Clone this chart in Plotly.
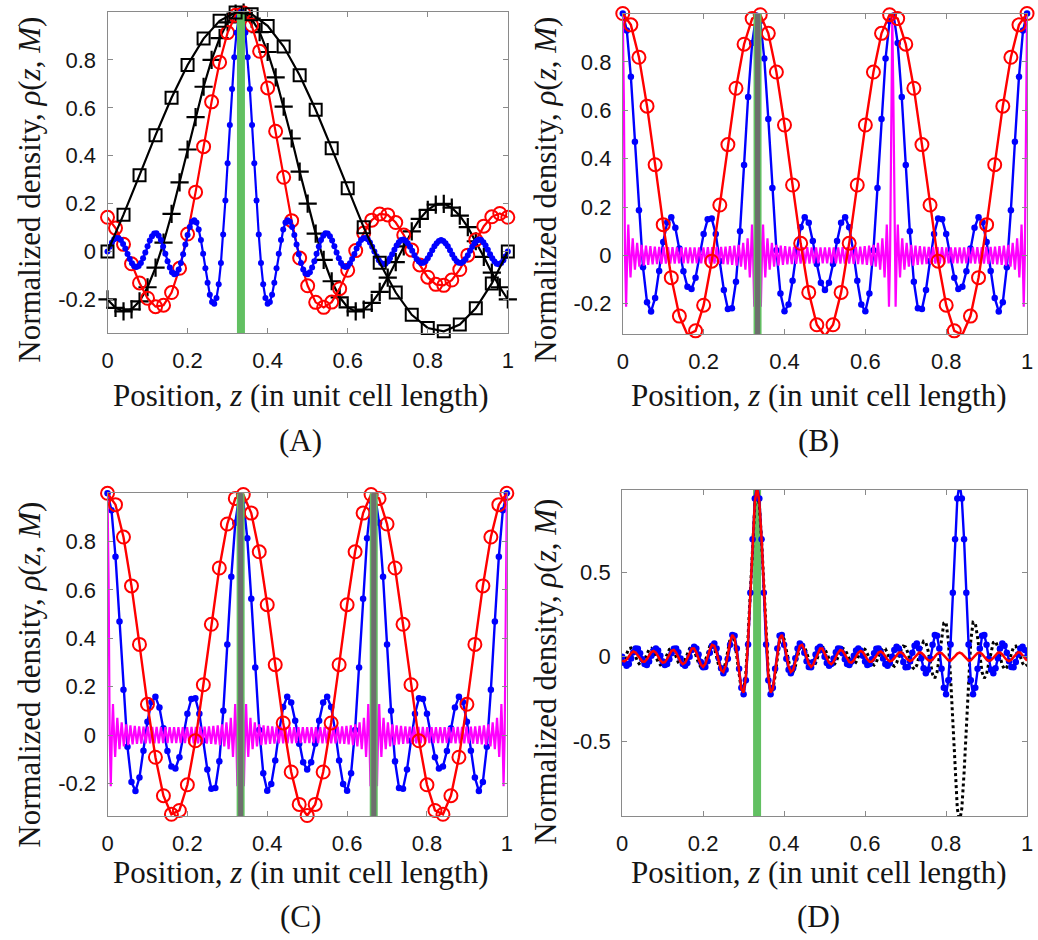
import plotly.graph_objects as go

W, H = 1038, 940

# ---------------- tick marks / labels ----------------
TICK_Z = [0, 0.2, 0.4, 0.6, 0.8, 1]
TICK_Z_TEXT = ["0", "0.2", "0.4", "0.6", "0.8", "1"]
TICK_RHO = [-0.2, 0, 0.2, 0.4, 0.6, 0.8]
TICK_RHO_TEXT = ["-0.2", "0", "0.2", "0.4", "0.6", "0.8"]
TICK_RHO_D = [-0.5, 0, 0.5]
TICK_RHO_D_TEXT = ["-0.5", "0", "0.5"]

# marked lattice sites (position in unit cell)
SITES_A = [1 / 3]
SITES_B = [1 / 3]
SITES_C = [1 / 3, 2 / 3]
SITES_D = [1 / 3]

# ---------------- panel A: single site at z = 1/3 ----------------
# M = 1, sampled every 0.04
A_M1 = [0.000, 0.154, 0.319, 0.486, 0.642, 0.779, 0.889, 0.963, 0.998, 0.991,
        0.942, 0.856, 0.736, 0.592, 0.431, 0.264, 0.101, -0.047, -0.171, -0.264,
        -0.319, -0.333, -0.305, -0.237, -0.133, 0.000]
# M = 2, sampled every 0.02
A_M2 = [-0.200, -0.235, -0.250, -0.241, -0.208, -0.149, -0.067, 0.037, 0.157, 0.289,
        0.426, 0.561, 0.688, 0.800, 0.891, 0.957, 0.993, 0.998, 0.972, 0.916,
        0.833, 0.727, 0.605, 0.472, 0.334, 0.200, 0.075, -0.035, -0.124, -0.191,
        -0.233, -0.250, -0.242, -0.214, -0.168, -0.109, -0.044, 0.022, 0.084, 0.136,
        0.174, 0.196, 0.199, 0.183, 0.150, 0.102, 0.043, -0.022, -0.088, -0.149,
        -0.200]
# M = 3, sampled every 0.02
A_M3 = [0.143, 0.098, 0.030, -0.051, -0.131, -0.195, -0.230, -0.224, -0.171, -0.070,
        0.073, 0.248, 0.438, 0.625, 0.790, 0.914, 0.986, 0.996, 0.945, 0.836,
        0.683, 0.502, 0.310, 0.129, -0.027, -0.143, -0.212, -0.233, -0.211, -0.155,
        -0.078, 0.004, 0.077, 0.131, 0.157, 0.153, 0.121, 0.069, 0.006, -0.056,
        -0.107, -0.137, -0.141, -0.119, -0.075, -0.015, 0.049, 0.106, 0.145, 0.159,
        0.143]
# M = 10, sampled every 1/180
A_M10 = [0.000, 0.020, 0.038, 0.051, 0.057, 0.056, 0.048, 0.032, 0.013, -0.010,
         -0.031, -0.049, -0.061, -0.065, -0.060, -0.048, -0.028, -0.004, 0.022, 0.046,
         0.064, 0.075, 0.076, 0.066, 0.048, 0.021, -0.009, -0.040, -0.067, -0.086,
         -0.095, -0.092, -0.075, -0.048, -0.011, 0.029, 0.069, 0.102, 0.124, 0.131,
         0.121, 0.092, 0.048, -0.009, -0.070, -0.130, -0.180, -0.211, -0.218, -0.194,
         -0.137, -0.048, 0.071, 0.213, 0.369, 0.528, 0.679, 0.811, 0.913, 0.978,
         1.000,
         0.978, 0.913, 0.811, 0.679, 0.528, 0.369, 0.213, 0.071, -0.048, -0.137,
         -0.194, -0.218, -0.211, -0.180, -0.130, -0.070, -0.009, 0.048, 0.092, 0.121,
         0.131, 0.124, 0.102, 0.069, 0.029, -0.011, -0.048, -0.075, -0.092, -0.095,
         -0.086, -0.067, -0.040, -0.009, 0.021, 0.048, 0.066, 0.076, 0.075, 0.064,
         0.046, 0.022, -0.004, -0.028, -0.048, -0.060, -0.065, -0.061, -0.049, -0.031,
         -0.010, 0.013, 0.032, 0.048, 0.056, 0.057, 0.051, 0.038, 0.020, 0.000,
         -0.020, -0.036, -0.048, -0.053, -0.051, -0.042, -0.028, -0.011, 0.008, 0.025,
         0.039, 0.048, 0.050, 0.045, 0.035, 0.020, 0.003, -0.015, -0.031, -0.042,
         -0.048, -0.047, -0.040, -0.028, -0.012, 0.005, 0.022, 0.035, 0.044, 0.048,
         0.044, 0.035, 0.022, 0.005, -0.012, -0.028, -0.040, -0.047, -0.048, -0.042,
         -0.031, -0.015, 0.003, 0.020, 0.035, 0.045, 0.050, 0.048, 0.039, 0.025,
         0.008, -0.011, -0.028, -0.042, -0.051, -0.053, -0.048, -0.036, -0.020, 0.000]

# ---------------- panels B and C: sites at 0, 1/3, 2/3 ----------------
# M = 1, sampled every 0.02
BC_M1 = [1.000, 0.953, 0.819, 0.617, 0.375, 0.127, -0.092, -0.251, -0.328, -0.312,
         -0.206, -0.024, 0.208, 0.458, 0.691, 0.873, 0.979, 0.995, 0.918, 0.758,
         0.539, 0.291, 0.050, -0.153, -0.287, -0.333, -0.287, -0.153, 0.050, 0.291,
         0.539, 0.758, 0.918, 0.995, 0.979, 0.873, 0.691, 0.458, 0.208, -0.024,
         -0.206, -0.312, -0.328, -0.251, -0.092, 0.127, 0.375, 0.617, 0.819, 0.953,
         1.000]
# M = 3, sampled every 0.01
BC_M3 = [1.000, 0.930, 0.738, 0.470, 0.187, -0.049, -0.194, -0.232, -0.176, -0.065,
         0.055, 0.137, 0.158, 0.114, 0.028, -0.066, -0.130, -0.139, -0.092, -0.005,
         0.088, 0.149, 0.152, 0.088, -0.023, -0.143, -0.222, -0.219, -0.109, 0.100,
         0.374, 0.655, 0.878, 0.992, 0.969, 0.814, 0.564, 0.279, 0.021, -0.158,
         -0.231, -0.203, -0.105, 0.017, 0.116, 0.158, 0.135, 0.059, -0.036, -0.113,
         -0.143,
         -0.113, -0.036, 0.059, 0.135, 0.158, 0.116, 0.017, -0.105, -0.203, -0.231,
         -0.158, 0.021, 0.279, 0.564, 0.814, 0.969, 0.992, 0.878, 0.655, 0.374,
         0.100, -0.109, -0.219, -0.222, -0.143, -0.023, 0.088, 0.152, 0.149, 0.088,
         -0.005, -0.092, -0.139, -0.130, -0.066, 0.028, 0.114, 0.158, 0.137, 0.055,
         -0.065, -0.176, -0.232, -0.194, -0.049, 0.187, 0.470, 0.738, 0.930, 1.000]
# high order, sampled every 1/366
BC_HIGH = [
    1, .637, 0, -.212, 0, .128, 0, -.091, 0, .071, 0, -.059, 0, .052, 0, -.047, 0, .044, 0, -.042,
    0, .040, 0, -.039, 0, .038, 0, -.037, 0, .036, 0, -.036, 0, .035, 0, -.035, 0, .035, 0, -.034,
    0, .034, 0, -.034, 0, .034, 0, -.034, 0, .033, 0, -.033, 0, .033, 0, -.033, 0, .033, 0, -.033,
    0, .033, 0, -.033, 0, .033, 0, -.033, 0, .033, 0, -.033, 0, .033, 0, -.034, 0, .034, 0, -.034,
    0, .034, 0, -.034, 0, .035, 0, -.035, 0, .035, 0, -.036, 0, .036, 0, -.037, 0, .038, 0, -.039,
    0, .040, 0, -.042, 0, .044, 0, -.047, 0, .052, 0, -.059, 0, .071, 0, -.091, 0, .128, 0, -.212,
    0, .637,
    1, .637, 0, -.212, 0, .128, 0, -.091, 0, .071, 0, -.059, 0, .052, 0, -.047, 0, .044, 0, -.042,
    0, .040, 0, -.039, 0, .038, 0, -.037, 0, .036, 0, -.036, 0, .035, 0, -.035, 0, .035, 0, -.034,
    0, .034, 0, -.034, 0, .034, 0, -.034, 0, .033, 0, -.033, 0, .033, 0, -.033, 0, .033, 0, -.033,
    0, .033, 0, -.033, 0, .033, 0, -.033, 0, .033, 0, -.033, 0, .033, 0, -.034, 0, .034, 0, -.034,
    0, .034, 0, -.034, 0, .035, 0, -.035, 0, .035, 0, -.036, 0, .036, 0, -.037, 0, .038, 0, -.039,
    0, .040, 0, -.042, 0, .044, 0, -.047, 0, .052, 0, -.059, 0, .071, 0, -.091, 0, .128, 0, -.212,
    0, .637,
    1, .637, 0, -.212, 0, .128, 0, -.091, 0, .071, 0, -.059, 0, .052, 0, -.047, 0, .044, 0, -.042,
    0, .040, 0, -.039, 0, .038, 0, -.037, 0, .036, 0, -.036, 0, .035, 0, -.035, 0, .035, 0, -.034,
    0, .034, 0, -.034, 0, .034, 0, -.034, 0, .033, 0, -.033, 0, .033, 0, -.033, 0, .033, 0, -.033,
    0, .033, 0, -.033, 0, .033, 0, -.033, 0, .033, 0, -.033, 0, .033, 0, -.034, 0, .034, 0, -.034,
    0, .034, 0, -.034, 0, .035, 0, -.035, 0, .035, 0, -.036, 0, .036, 0, -.037, 0, .038, 0, -.039,
    0, .040, 0, -.042, 0, .044, 0, -.047, 0, .052, 0, -.059, 0, .071, 0, -.091, 0, .128, 0, -.212,
    0, .637,
    1]

# ---------------- panel D: sites at 1/3 and 5/6, sampled every 1/180 ----------------
D_ONE = [-.024, -.028, -.018, .002, .020, .030, .024, .007, -.015, -.029,
         -.030, -.016, .007, .027, .034, .024, .002, -.022, -.036, -.033,
         -.013, .014, .035, .039, .024, -.004, -.031, -.045, -.036, -.009,
         .024, .048, .048, .024, -.013, -.047, -.060, -.043, -.002, .043,
         .070, .064, .024, -.033, -.080, -.091, -.056, .013, .087, .128,
         .108, .024, -.093, -.191, -.213, -.118, .096, .391, .692, .917,
         1.000, .917, .692, .391, .096, -.118, -.213, -.191, -.093, .024,
         .108, .128, .087, .013, -.056, -.091, -.080, -.033, .024, .064,
         .070, .043, -.002, -.043, -.060, -.047, -.013, .024, .048, .048,
         .024, -.009, -.036, -.045, -.031, -.004, .024, .039, .035, .014,
         -.013, -.033, -.036, -.022, .002, .024, .034, .027, .007, -.016,
         -.030, -.029, -.015, .007, .024, .030, .020, .002, -.018, -.028,
         -.024, -.009, .010, .024, .026, .015, -.003, -.019, -.026, -.020,
         -.005, .013, .024, .023, .011, -.007, -.021, -.025, -.017, .000,
         .016, .024, .021, .007, -.010, -.022, -.024, -.013, .003, .018,
         .024, .018, .003, -.013, -.024, -.022, -.010, .007, .021, .024,
         .016, .000, -.017, -.025, -.021, -.007, .011, .023, .024, .013,
         -.005, -.020, -.026, -.019, -.003, .015, .026, .024, .010, -.009,
         -.024]
D_SUM = [.000, -.037, -.054, -.043, -.011, .026, .048, .046, .020, -.015,
         -.043, -.049, -.029, .005, .036, .048, .036, .005, -.029, -.049,
         -.043, -.015, .020, .046, .048, .026, -.011, -.043, -.054, -.037,
         .000, .039, .058, .048, .013, -.032, -.063, -.062, -.028, .023,
         .065, .077, .048, -.010, -.069, -.098, -.077, -.012, .070, .128,
         .124, .048, -.072, -.184, -.223, -.140, .072, .378, .695, .935,
         1.024, .935, .695, .378, .072, -.140, -.223, -.184, -.072, .048,
         .124, .128, .070, -.012, -.077, -.098, -.069, -.010, .048, .077,
         .065, .023, -.028, -.062, -.063, -.032, .013, .048, .058, .039,
         .000, -.037, -.054, -.043, -.011, .026, .048, .046, .020, -.015,
         -.043, -.049, -.029, .005, .036, .048, .036, .005, -.029, -.049,
         -.043, -.015, .020, .046, .048, .026, -.011, -.043, -.054, -.037,
         .000, .039, .058, .048, .013, -.032, -.063, -.062, -.028, .023,
         .065, .077, .048, -.010, -.069, -.098, -.077, -.012, .070, .128,
         .124, .048, -.072, -.184, -.223, -.140, .072, .378, .695, .935,
         1.024, .935, .695, .378, .072, -.140, -.223, -.184, -.072, .048,
         .124, .128, .070, -.012, -.077, -.098, -.069, -.010, .048, .077,
         .065, .023, -.028, -.062, -.063, -.032, .013, .048, .058, .039,
         .000]
D_DIFF = [-.048, -.019, .018, .047, .051, .034, .000, -.032, -.050, -.043,
          -.017, .017, .043, .049, .032, .000, -.032, -.049, -.043, -.017,
          .017, .043, .050, .032, .000, -.034, -.051, -.047, -.018, .019,
          .048, .057, .038, .000, -.039, -.062, -.057, -.024, .024, .063,
          .075, .051, .000, -.056, -.091, -.084, -.035, .038, .104, .128,
          .092, .000, -.114, -.198, -.203, -.096, .120, .404, .689, .899,
          .976, .899, .689, .404, .120, -.096, -.203, -.198, -.114, .000,
          .092, .128, .104, .038, -.035, -.084, -.091, -.056, .000, .051,
          .075, .063, .024, -.024, -.057, -.062, -.039, .000, .038, .057,
          .048, .019, -.018, -.047, -.051, -.034, .000, .032, .050, .043,
          .017, -.017, -.043, -.049, -.032, .000, .032, .049, .043, .017,
          -.017, -.043, -.050, -.032, .000, .034, .051, .047, .018, -.019,
          -.048, -.057, -.038, .000, .039, .062, .057, .024, -.024, -.063,
          -.075, -.051, .000, .056, .091, .084, .035, -.038, -.104, -.128,
          -.092, .000, .114, .198, .203, .096, -.120, -.404, -.689, -.899,
          -.976, -.899, -.689, -.404, -.120, .096, .203, .198, .114, .000,
          -.092, -.128, -.104, -.038, .035, .084, .091, .056, .000, -.051,
          -.075, -.063, -.024, .024, .057, .062, .039, .000, -.038, -.057,
          -.048]


def grid(values, step):
    return [i * step for i in range(len(values))]


RED = "#ff0000"
BLUE = "#0000ff"
MAGENTA = "#ff00ff"
GREEN = "#62c062"
GRAY = "#6e6e6e"
AXIS = "#8a8a8a"
SERIF = "Liberation Serif, Times New Roman, serif"
SANS = "Liberation Sans, Arial, sans-serif"

# panel boxes in pixels: (left, right, top, bottom) and y ranges
PANELS = {
    "A": dict(box=(102.7, 507.7, 12.0, 333.0), yr=[-0.34, 1.0], tv=TICK_RHO, tt=TICK_RHO_TEXT),
    "B": dict(box=(624.0, 1033.0, 13.5, 334.0), yr=[-0.325, 1.0], tv=TICK_RHO, tt=TICK_RHO_TEXT),
    "C": dict(box=(102.7, 506.7, 493.3, 816.0), yr=[-0.335, 1.0], tv=TICK_RHO, tt=TICK_RHO_TEXT),
    "D": dict(box=(623.3, 1033.0, 490.0, 816.0), yr=[-0.943, 0.986], tv=TICK_RHO_D, tt=TICK_RHO_D_TEXT),
}
AX = {"A": ("x", "y"), "B": ("x2", "y2"), "C": ("x3", "y3"), "D": ("x4", "y4")}

fig = go.Figure()


def line_trace(p, x, y, color, width=2, dash="solid", clip=True):
    xa, ya = AX[p]
    fig.add_trace(go.Scatter(x=x, y=y, mode="lines", xaxis=xa, yaxis=ya,
                             line=dict(color=color, width=width, dash=dash),
                             cliponaxis=clip, hoverinfo="skip"))


def marker_trace(p, x, y, color, symbol, size, mlw=2, lw=2, clip=False):
    xa, ya = AX[p]
    fig.add_trace(go.Scatter(x=x, y=y, mode="lines+markers", xaxis=xa, yaxis=ya,
                             line=dict(color=color, width=lw),
                             marker=dict(symbol=symbol, size=size, color=color,
                                         line=dict(color=color, width=mlw)),
                             cliponaxis=clip, hoverinfo="skip"))


def site_bars(p, sites, with_gray):
    yr = PANELS[p]["yr"]
    for s in sites:
        line_trace(p, [s, s], yr, GREEN, width=8)
        if with_gray:
            line_trace(p, [s, s], yr, GRAY, width=5)


# ---- A ----
marker_trace("A", grid(A_M2, 0.02), A_M2, "black", "cross-thin", 13, mlw=2.2, lw=2.2)
marker_trace("A", grid(A_M3, 0.02), A_M3, RED, "circle-open", 13, lw=2.2)
marker_trace("A", grid(A_M10, 1 / 180), A_M10, BLUE, "circle", 6, mlw=0, lw=2.2)
site_bars("A", SITES_A, False)
marker_trace("A", grid(A_M1, 0.04), A_M1, "black", "square-open", 12, lw=2.2)

# ---- B and C ----
for p, sites in (("B", SITES_B), ("C", SITES_C)):
    marker_trace(p, grid(BC_M3, 0.01), BC_M3, BLUE, "circle", 6.5, mlw=0, lw=2.4)
    line_trace(p, grid(BC_HIGH, 1 / 366), BC_HIGH, MAGENTA, width=2.2)
    marker_trace(p, grid(BC_M1, 0.02), BC_M1, RED, "circle-open", 13, lw=2.4)
    site_bars(p, sites, True)

# ---- D ----
site_bars("D", SITES_D, False)
line_trace("D", grid(D_DIFF, 1 / 180), D_DIFF, "black", width=3, dash="dot")
marker_trace("D", grid(D_SUM, 1 / 180), D_SUM, BLUE, "circle", 6.5, mlw=0, lw=2.4, clip=True)
line_trace("D", grid(D_ONE, 1 / 180), D_ONE, RED, width=2.5)

# ---- axes ----
layout = dict(width=W, height=H, margin=dict(l=0, r=0, t=0, b=0),
              paper_bgcolor="white", plot_bgcolor="white", showlegend=False)
for i, p in enumerate("ABCD"):
    l, r, t, b = PANELS[p]["box"]
    sfx = "" if i == 0 else str(i + 1)
    common = dict(showline=True, linecolor=AXIS, linewidth=1, mirror="ticks",
                  ticks="inside", ticklen=5, tickcolor=AXIS, showgrid=False,
                  zeroline=False, tickfont=dict(family=SANS, size=22, color="#151515"))
    layout["xaxis" + sfx] = dict(domain=[l / W, r / W], anchor="y" + sfx, range=[0, 1],
                                 tickvals=TICK_Z, ticktext=TICK_Z_TEXT,
                                 ticklabelstandoff=8, **common)
    layout["yaxis" + sfx] = dict(domain=[1 - b / H, 1 - t / H], anchor="x" + sfx,
                                 range=PANELS[p]["yr"], tickvals=PANELS[p]["tv"],
                                 ticktext=PANELS[p]["tt"], ticklabelstandoff=6, **common)
fig.update_layout(**layout)

XTITLE = "Position, <i>z</i> (in unit cell length)"
YTITLE = "Normalized density, <i>ρ</i>(<i>z</i>, <i>M</i>)"


def text_at(px, py, text, angle=0, size=31):
    fig.add_annotation(x=px / W, y=1 - py / H, xref="paper", yref="paper", text=text,
                       showarrow=False, textangle=angle, xanchor="center", yanchor="middle",
                       font=dict(family=SERIF, size=size, color="#151515"))


for (cx, ty, ly, lab) in ((298, 395, 440, "(A)"), (822, 395, 440, "(B)"),
                          (298, 872, 916, "(C)"), (822, 872, 916, "(D)")):
    text_at(cx, ty, XTITLE)
    text_at(cx, ly, lab)
for (cx, cy) in ((23, 190), (545, 190), (23, 675), (545, 672)):
    text_at(cx, cy, YTITLE, angle=-90)

fig.write_html("out.html")
